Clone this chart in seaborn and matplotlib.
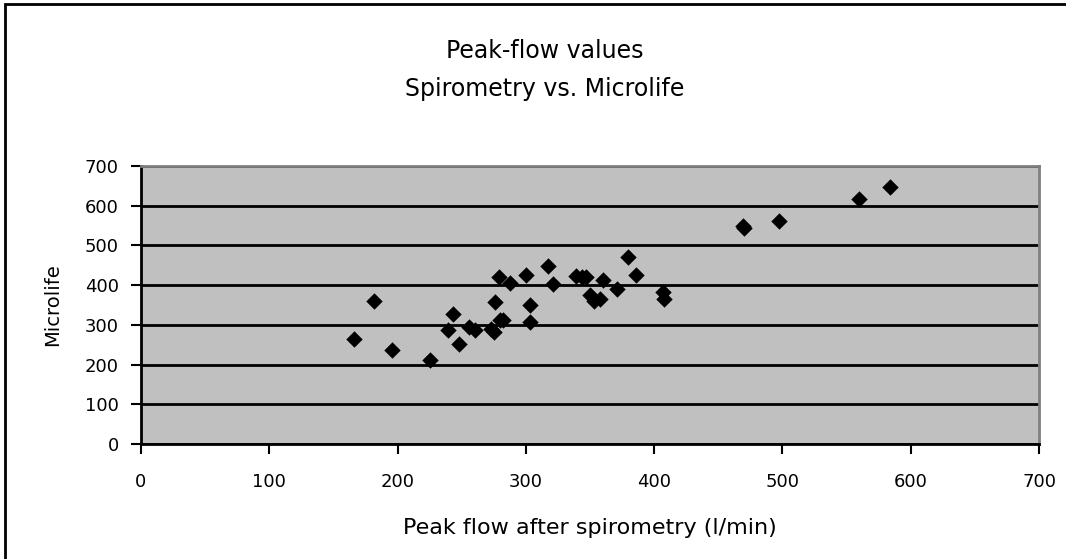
import matplotlib
matplotlib.use("Agg")
import matplotlib.pyplot as plt
import seaborn as sns
import pandas as pd
from matplotlib.patches import Rectangle

# Peak flow after spirometry (l/min) vs. Microlife reading
spirometry = [166, 182, 196, 225, 239, 243, 248, 256, 260, 273, 275, 276, 279,
              280, 282, 288, 300, 303, 303, 317, 321, 339, 344, 347, 350, 353,
              358, 360, 371, 380, 386, 407, 408, 469, 470, 497, 560, 584]
microlife = [265, 361, 236, 212, 288, 328, 251, 294, 288, 290, 282, 357, 420,
             311, 313, 405, 426, 351, 307, 449, 403, 424, 420, 421, 374, 361,
             366, 413, 391, 472, 426, 382, 366, 550, 545, 562, 616, 647]
ticks = [0, 100, 200, 300, 400, 500, 600, 700]

df = pd.DataFrame({"spirometry": spirometry, "microlife": microlife})

sns.set_style("white")
plt.rcParams["font.family"] = ["DejaVu Sans"]
plt.rcParams["text.color"] = "black"
plt.rcParams["axes.labelcolor"] = "black"
plt.rcParams["xtick.color"] = "black"
plt.rcParams["ytick.color"] = "black"

fig = plt.figure(figsize=(10.66, 5.59), dpi=100)
ax = fig.add_axes([141 / 1066, 1 - 444 / 559, 898 / 1066, 278 / 559])
ax.set_facecolor("#c0c0c0")

sns.scatterplot(data=df, x="spirometry", y="microlife", ax=ax, marker="D",
                s=70, color="black", edgecolor="black", linewidth=0, zorder=3)

ax.set_xlim(0, 700)
ax.set_ylim(0, 700)
ax.set_xticks(ticks)
ax.set_yticks(ticks)
ax.set_xticklabels([str(t) for t in ticks], fontsize=13)
ax.set_yticklabels([str(t) for t in ticks], fontsize=13)
ax.tick_params(axis="both", direction="out", length=7, width=1.5, color="black",
               labelcolor="black", left=True, bottom=True)
ax.tick_params(axis="x", pad=14)
ax.tick_params(axis="y", pad=9)

ax.yaxis.grid(True, color="black", linewidth=2)
ax.xaxis.grid(False)
ax.set_axisbelow(True)

for side in ["left", "bottom"]:
    ax.spines[side].set_color("black")
    ax.spines[side].set_linewidth(2)
for side in ["top", "right"]:
    ax.spines[side].set_visible(True)
    ax.spines[side].set_color("#808080")
    ax.spines[side].set_linewidth(2)

ax.set_xlabel("Peak flow after spirometry (l/min)", fontsize=16, labelpad=19,
              color="black")
ax.set_ylabel("Microlife", fontsize=14, labelpad=16, color="black")

fig.text(545 / 1066, 1 - 58 / 559, "Peak-flow values", ha="center",
         va="baseline", fontsize=17, color="black")
fig.text(545 / 1066, 1 - 96 / 559, "Spirometry vs. Microlife", ha="center",
         va="baseline", fontsize=17, color="black")

# outer chart-area frame
fig.patches.append(Rectangle((5 / 1066, -0.1), 1.2, 1.1 - 4 / 559,
                             transform=fig.transFigure, fill=False,
                             edgecolor="black", linewidth=2))

fig.savefig("out.png", dpi=100)
